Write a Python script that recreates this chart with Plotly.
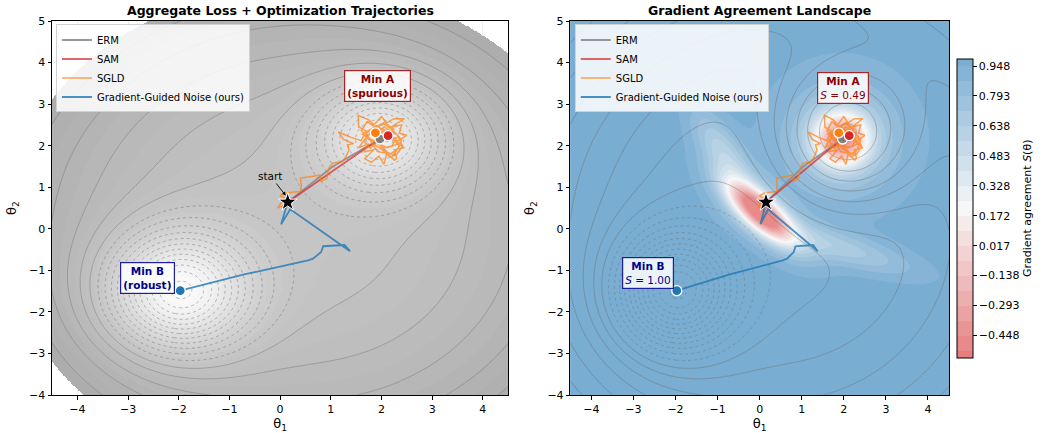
import numpy as np
import plotly.graph_objects as go

# ---------------- data ----------------
start_pt = [0.15, 0.64]

# aggregate loss landscape: two Gaussian wells on a shallow bowl
well_x = [2.0, -2.0]
well_y = [2.2, -1.5]
well_depth = [1.0, 1.3]
well_width = [0.85, 0.95]
bowl_center = [0.45, 0.0]
bowl_k = 0.0146

# environment loss used for the line overlay of the right panel
env_hill_A = 0.75
env_hill_width = 1.15
env_well_B = 1.3
env_well_width = 0.95

# gradient agreement field: bumps subtracted from S = 1
s_bump_x = [0.0, 0.0, -0.9, 1.9, 1.95, 1.95, 1.95]
s_bump_y = [0.42, 0.42, 1.9, -0.45, 2.15, 2.15, 2.15]
s_bump_amp = [1.25, 0.45, 0.35, 0.3, 1.0, 0.35, 0.12]
s_bump_long = [0.65, 1.0, 0.8, 1.3, 0.45, 0.75, 1.5]
s_bump_short = [0.24, 0.4, 0.3, 0.28, 0.45, 0.75, 1.5]
s_bump_angle = [-42, -42, 124, -17, 0, 0, 0]

# trajectories
erm_x = [0.15, 1.04, 1.97]
erm_y = [0.64, 1.50, 2.16]
sam_x = [0.15, 1.04, 1.70, 2.13]
sam_y = [0.64, 1.38, 1.95, 2.24]
sgld_x = [0.15, 0.05, -0.05, 0.02, 0.10, 0.00, 0.12, 0.25, 0.40, 0.42, 0.40, 0.62, 0.78, 0.81, 0.92, 0.96,
          1.04, 1.23, 1.30, 1.36, 1.33, 1.45, 1.25, 1.15, 1.40, 1.60, 1.70, 1.55, 1.54, 1.75, 1.85, 2.00, 2.10,
          2.25, 2.45, 2.20, 2.40, 2.35, 2.50, 2.30, 2.45, 2.25, 2.30, 2.26, 2.10, 2.05, 1.95, 1.80, 1.67, 1.85,
          1.65, 1.75, 1.55, 1.70, 1.90, 2.05, 1.95, 2.15, 2.10, 2.30, 2.20, 2.00, 1.85, 2.05, 2.25, 2.15, 1.95,
          2.10, 2.35, 2.20, 2.00, 1.80, 1.62, 1.78, 1.92, 2.18, 2.32, 2.40, 2.22, 2.05, 1.88, 1.72, 1.60, 1.75,
          1.98, 2.12, 2.28, 2.42, 2.30, 2.08, 1.90, 1.70, 1.82, 2.02, 2.20, 2.36, 2.15, 1.96, 1.78, 1.66, 1.84,
          2.06, 2.24, 2.12, 1.93, 1.88]
sgld_y = [0.64, 0.55, 0.50, 0.62, 0.72, 0.80, 0.86, 0.88, 0.90, 1.05, 1.22, 1.26, 1.29, 1.14, 1.21, 1.46,
          1.58, 1.62, 1.74, 1.90, 2.02, 2.05, 2.15, 2.33, 2.20, 2.12, 2.35, 2.45, 2.73, 2.62, 2.50, 2.70, 2.55,
          2.65, 2.65, 2.45, 2.50, 2.30, 2.25, 2.10, 1.95, 1.90, 1.70, 1.65, 1.80, 1.55, 1.75, 1.60, 1.69, 1.90,
          1.85, 2.05, 1.95, 2.20, 2.10, 2.25, 2.40, 2.35, 2.10, 2.20, 1.98, 1.95, 2.25, 2.45, 2.30, 2.15, 2.05,
          1.95, 2.05, 2.25, 2.35, 2.40, 2.28, 2.12, 1.86, 1.80, 1.92, 2.14, 2.38, 2.52, 2.44, 2.58, 2.36, 2.18,
          2.00, 1.84, 1.76, 1.98, 2.28, 2.34, 2.48, 2.30, 2.06, 1.90, 1.72, 2.00, 2.22, 2.14, 1.94, 2.10, 2.42,
          2.56, 2.40, 2.20, 2.26, 2.31]
ggn_x = [0.15, 0.02, 0.20, 1.38, 1.27, 0.85, 0.81, 0.65, 0.55, -0.71, -1.97]
ggn_y = [0.64, 0.11, 0.47, -0.54, -0.39, -0.42, -0.56, -0.72, -0.76, -1.10, -1.49]

# colorbar ticks
cb_tickvals = [-0.448, -0.293, -0.138, 0.017, 0.172, 0.328, 0.483, 0.638, 0.793, 0.948]
cb_ticktext = ["\u22120.448", "\u22120.293", "\u22120.138", "0.017", "0.172", "0.328", "0.483", "0.638",
               "0.793", "0.948"]

# ---------------- fields ----------------
gx = np.linspace(-4.5, 4.5, 451)
gy = np.linspace(-4.0, 5.0, 451)
X, Y = np.meshgrid(gx, gy)

bowl = bowl_k * ((X - bowl_center[0]) ** 2 + (Y - bowl_center[1]) ** 2)
L = bowl.copy()
for wx, wy, d, s in zip(well_x, well_y, well_depth, well_width):
    L -= d * np.exp(-((X - wx) ** 2 + (Y - wy) ** 2) / (2 * s ** 2))

F2 = bowl + env_hill_A * np.exp(-((X - well_x[0]) ** 2 + (Y - well_y[0]) ** 2) / (2 * env_hill_width ** 2)) \
    - env_well_B * np.exp(-((X - well_x[1]) ** 2 + (Y - well_y[1]) ** 2) / (2 * env_well_width ** 2))

S = np.ones_like(X)
for bx, by, a, sl, ss, ang in zip(s_bump_x, s_bump_y, s_bump_amp, s_bump_long, s_bump_short, s_bump_angle):
    t = np.deg2rad(ang)
    dx, dy = X - bx, Y - by
    u = dx * np.cos(t) + dy * np.sin(t)
    v = -dx * np.sin(t) + dy * np.cos(t)
    S -= a * np.exp(-0.5 * (u ** 2 / sl ** 2 + v ** 2 / ss ** 2))
S = np.clip(S, -0.52, 1.0)

# banded (contourf-like) loss, empty above the top level
l_start, l_size, l_end = -1.25, 0.05, 0.50
band = l_start + (np.floor((L - l_start) / l_size) + 0.5) * l_size
band = np.where(L > l_end, np.nan, band)
band = np.round(band, 4)

# ---------------- layout geometry ----------------
W, H = 1047, 433
ML, MR, MT, MB = 52, W - 954.5, 20.5, H - 395.5
PW, PH = W - ML - MR, H - MT - MB


def px(x):
    return (x - ML) / PW


def py(y):
    return (H - MB - y) / PH


FONT = "DejaVu Sans"
fig = go.Figure()

fig.add_trace(go.Heatmap(x=gx, y=gy, z=band, xaxis="x", yaxis="y", zmin=l_start, zmax=l_end,
                         colorscale=[[0, "rgb(255,255,255)"], [1, "rgb(172,172,172)"]], showscale=False,
                         hoverinfo="skip", zsmooth=False))
fig.add_trace(go.Contour(x=gx, y=gy, z=L, xaxis="x", yaxis="y", showscale=False,
                         contours=dict(coloring="none", start=-1.15, end=-0.05, size=0.1),
                         line=dict(color="rgba(110,110,110,0.6)", width=0.8, dash="dot"),
                         hoverinfo="skip", showlegend=False))
fig.add_trace(go.Contour(x=gx, y=gy, z=L, xaxis="x", yaxis="y", showscale=False,
                         contours=dict(coloring="none", start=0.05, end=0.45, size=0.1),
                         line=dict(color="rgba(120,120,120,0.55)", width=0.9),
                         hoverinfo="skip", showlegend=False))

# right: gradient agreement
s_cs = [[0, "rgb(230,125,126)"], [0.5, "rgb(247,247,247)"], [1, "rgb(121,173,210)"]]
fig.add_trace(go.Contour(x=gx, y=gy, z=S, xaxis="x2", yaxis="y2", colorscale=s_cs,
                         contours=dict(coloring="fill", start=-0.5255, end=0.948, size=0.0775, showlines=False),
                         line=dict(width=0), hoverinfo="skip", showlegend=False,
                         colorbar=dict(x=px(963), xanchor="left", xpad=0, y=py(208.3), yanchor="middle",
                                       len=320 / PH, lenmode="fraction", thickness=16, outlinecolor="black",
                                       outlinewidth=1, tickvals=cb_tickvals, ticktext=cb_ticktext,
                                       ticks="outside", ticklen=3.5, tickcolor="black",
                                       tickfont=dict(family=FONT, size=11, color="black"),
                                       title=dict(text="Gradient agreement <i>S</i>(θ)", side="right",
                                                  font=dict(family=FONT, size=11, color="black")))))
fig.add_trace(go.Contour(x=gx, y=gy, z=F2, xaxis="x2", yaxis="y2", showscale=False,
                         contours=dict(coloring="none", start=-1.15, end=-0.05, size=0.1),
                         line=dict(color="rgba(110,110,110,0.5)", width=0.8, dash="dot"),
                         hoverinfo="skip", showlegend=False))
fig.add_trace(go.Contour(x=gx, y=gy, z=F2, xaxis="x2", yaxis="y2", showscale=False,
                         contours=dict(coloring="none", start=0.05, end=0.85, size=0.1),
                         line=dict(color="rgba(110,110,110,0.5)", width=0.9),
                         hoverinfo="skip", showlegend=False))

# trajectories
traj = [("ERM", erm_x, erm_y, "rgba(140,140,140,0.9)", "rgb(127,127,127)", 1.8),
        ("SAM", sam_x, sam_y, "rgba(214,39,40,0.7)", "rgb(214,39,40)", 1.8),
        ("SGLD", sgld_x, sgld_y, "rgba(255,127,14,0.7)", "rgb(255,127,14)", 1.5),
        ("Gradient-Guided Noise (ours)", ggn_x, ggn_y, "rgba(31,119,180,0.8)", "rgb(31,119,180)", 1.8)]
for xa, ya, leg in [("x", "y", "legend"), ("x2", "y2", "legend2")]:
    for name, tx, ty, lc, mc, lw in traj:
        fig.add_trace(go.Scatter(x=tx, y=ty, mode="lines", name=name, xaxis=xa, yaxis=ya, legend=leg,
                                 line=dict(color=lc, width=lw), hoverinfo="skip"))
    for name, tx, ty, lc, mc, lw in traj:
        fig.add_trace(go.Scatter(x=[tx[-1]], y=[ty[-1]], mode="markers", xaxis=xa, yaxis=ya, showlegend=False,
                                 marker=dict(color=mc, size=10, line=dict(color="white", width=1.3)),
                                 hoverinfo="skip"))
    fig.add_trace(go.Scatter(x=[start_pt[0]], y=[start_pt[1]], mode="markers", xaxis=xa, yaxis=ya,
                             showlegend=False, hoverinfo="skip",
                             marker=dict(symbol="star", color="black", size=14, line=dict(color="white", width=1))))

ax_common = dict(range=[-4.5, 4.5], tickvals=list(range(-4, 5)), ticks="outside", ticklen=3.5, tickcolor="black",
                 showline=True, mirror=True, linecolor="black", linewidth=1, showgrid=True,
                 gridcolor="rgba(200,200,200,0.3)", zeroline=False, layer="above traces", automargin=False,
                 tickfont=dict(family=FONT, size=11, color="black"))
ay_common = dict(range=[-4, 5], tickvals=list(range(-4, 6)), ticks="outside", ticklen=3.5, tickcolor="black",
                 showline=True, mirror=True, linecolor="black", linewidth=1, showgrid=True,
                 gridcolor="rgba(200,200,200,0.3)", zeroline=False, layer="above traces", automargin=False,
                 tickfont=dict(family=FONT, size=11, color="black"))
fig.update_layout(
    template="none",
    width=W, height=H, margin=dict(l=ML, r=MR, t=MT, b=MB, pad=0), paper_bgcolor="white", plot_bgcolor="white",
    font=dict(family=FONT, color="black"),
    xaxis=dict(domain=[0, px(511)], anchor="y", title=dict(text="θ<sub>1</sub>", font=dict(size=13)), **ax_common),
    yaxis=dict(domain=[0, 1], anchor="x", title=dict(text="θ<sub>2</sub>", font=dict(size=13)), **ay_common),
    xaxis2=dict(domain=[px(573.5), 1], anchor="y2", title=dict(text="θ<sub>1</sub>", font=dict(size=13)),
                **ax_common),
    yaxis2=dict(domain=[0, 1], anchor="x2", title=dict(text="θ<sub>2</sub>", font=dict(size=13)), **ay_common),
    legend=dict(x=px(56), y=py(24), xanchor="left", yanchor="top", bgcolor="rgba(255,255,255,0.85)",
                bordercolor="rgb(210,210,210)", borderwidth=1, font=dict(family=FONT, size=10),
                tracegroupgap=0, itemwidth=30),
    legend2=dict(x=px(578), y=py(24), xanchor="left", yanchor="top", bgcolor="rgba(255,255,255,0.85)",
                 bordercolor="rgb(210,210,210)", borderwidth=1, font=dict(family=FONT, size=10),
                 tracegroupgap=0, itemwidth=30),
)

ann = [
    dict(text="<b>Aggregate Loss + Optimization Trajectories</b>", x=px(281.5), y=py(9.5), xref="paper",
         yref="paper", xanchor="center", yanchor="middle", showarrow=False, font=dict(size=12.5)),
    dict(text="<b>Gradient Agreement Landscape</b>", x=px(764), y=py(9.5), xref="paper", yref="paper",
         xanchor="center", yanchor="middle", showarrow=False, font=dict(size=12.5)),
    dict(text="<b>Min A<br>(spurious)</b>", x=1.93, y=3.43, xref="x", yref="y", showarrow=False,
         font=dict(size=10.5, color="rgb(139,0,0)"), bgcolor="rgba(255,255,255,0.85)",
         bordercolor="rgb(160,40,40)", borderwidth=1.2, borderpad=2),
    dict(text="<b>Min B<br>(robust)</b>", x=-2.62, y=-1.18, xref="x", yref="y", showarrow=False,
         font=dict(size=10.5, color="rgb(0,0,139)"), bgcolor="rgba(255,255,255,0.85)",
         bordercolor="rgb(30,30,150)", borderwidth=1.2, borderpad=2),
    dict(text="<b>Min A</b><br><i>S</i> = 0.49", x=1.98, y=3.38, xref="x2", yref="y2", showarrow=False,
         font=dict(size=10.5, color="rgb(139,0,0)"), bgcolor="rgba(255,255,255,0.85)",
         bordercolor="rgb(160,40,40)", borderwidth=1.2, borderpad=2),
    dict(text="<b>Min B</b><br><i>S</i> = 1.00", x=-2.65, y=-1.06, xref="x2", yref="y2", showarrow=False,
         font=dict(size=10.5, color="rgb(0,0,139)"), bgcolor="rgba(255,255,255,0.85)",
         bordercolor="rgb(30,30,150)", borderwidth=1.2, borderpad=2),
    dict(text="start", x=0.11, y=0.80, ax=-0.19, ay=1.27, xref="x", yref="y", axref="x", ayref="y",
         showarrow=True, arrowhead=2, arrowsize=0.8, arrowwidth=0.9, arrowcolor="black",
         font=dict(size=10.5, color="black"), standoff=0),
]
fig.update_layout(annotations=ann)
fig.write_html("out.html", config={"displayModeBar": False},
               post_script="document.body.style.margin='0px';")
